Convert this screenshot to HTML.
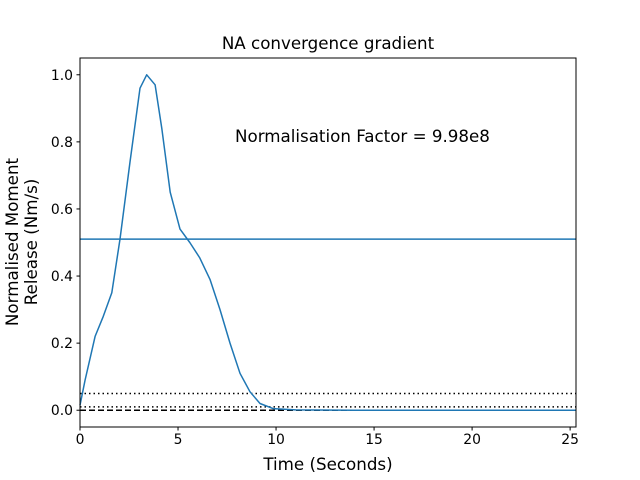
<!DOCTYPE html>
<html><head><meta charset="utf-8"><style>
body{margin:0;background:#fff;}
svg{display:block;font-family:"DejaVu Sans","Liberation Sans",sans-serif;}
</style></head><body>
<svg id="chart" width="640" height="480" viewBox="0 0 640 480">
<rect x="0" y="0" width="640" height="480" fill="#fff"/>
<g id="plot"></g>
</svg>
<script>
const times=[0,0.26,0.77,1.19,1.62,2.04,2.55,3.06,3.4,3.83,4.17,4.6,5.1,5.6,6.1,6.63,7.14,7.65,8.16,8.67,9.18,9.85,11,14,18,22,25.3];
const values=[0.015,0.09,0.22,0.28,0.35,0.51,0.74,0.96,1.0,0.97,0.84,0.65,0.54,0.50,0.455,0.39,0.30,0.20,0.11,0.055,0.02,0.005,0.001,0,0,0,0];
const meanLevel=0.51;
const dottedLevel=0.05;
const dottedLevel2=0.01;
const dashedLevel=0.0;
const xTicks=[0,5,10,15,20,25];
const yTicks=[0.0,0.2,0.4,0.6,0.8,1.0];
const xMin=0,xMax=25.3,yMin=-0.05,yMax=1.05;
const L=80,R=576,T=58,B=427;
const sx=v=>L+(v-xMin)/(xMax-xMin)*(R-L);
const sy=v=>B-(v-yMin)/(yMax-yMin)*(B-T);
const NS="http://www.w3.org/2000/svg";
const g=document.getElementById('plot');
function mk(tag,attrs,parent){const e=document.createElementNS(NS,tag);for(const k in attrs)e.setAttribute(k,attrs[k]);(parent||g).appendChild(e);return e;}
function hline(v,dash,color,name){const e=mk('line',{x1:L,x2:R,y1:sy(v),y2:sy(v),stroke:color,'stroke-width':1.5,'stroke-dasharray':dash});

}
hline(dottedLevel,'1.5,3','#000','threshold-dotted-005');
hline(dottedLevel2,'1.5,3','#000','threshold-dotted-001');
hline(dashedLevel,'6,3','#000','zero-dashed-line');
hline(meanLevel,'','#1f77b4','mean-level-line');
const d=times.map((t,i)=>(i?'L':'M')+sx(t).toFixed(1)+','+sy(values[i]).toFixed(1)).join(' ');
const path=mk('path',{d:d,fill:'none',stroke:'#1f77b4','stroke-width':1.5,'stroke-linejoin':'round'});


const frame=mk('rect',{x:L,y:T,width:R-L,height:B-T,fill:'none',stroke:'#000','stroke-width':1});


xTicks.forEach(v=>{const x=sx(v);
const tk=mk('line',{x1:x,x2:x,y1:B,y2:B+3.5,stroke:'#000'});


const tx=mk('text',{x:x,y:B+17,'font-size':13.9,'text-anchor':'middle'});tx.textContent=v;

});
yTicks.forEach(v=>{const y=sy(v);
const tk=mk('line',{x1:L-3.5,x2:L,y1:y,y2:y,stroke:'#000'});


const tx=mk('text',{x:L-7,y:y+5,'font-size':13.9,'text-anchor':'end'});tx.textContent=v.toFixed(1);

});
</script>
<svg style="position:absolute;left:0;top:0" width="640" height="480">
<text x="328" y="49" font-size="16.7" text-anchor="middle" font-family="DejaVu Sans, Liberation Sans, sans-serif">NA convergence gradient</text>
<text x="328" y="470" font-size="16.7" text-anchor="middle" font-family="DejaVu Sans, Liberation Sans, sans-serif">Time (Seconds)</text>
<g transform="translate(18,242) rotate(-90)" font-family="DejaVu Sans, Liberation Sans, sans-serif" font-size="16.7" text-anchor="middle">
<text x="0" y="0">Normalised Moment</text>
<text x="0" y="19">Release (Nm/s)</text>
</g>
<text x="235" y="142" font-size="16.7" font-family="DejaVu Sans, Liberation Sans, sans-serif">Normalisation Factor = 9.98e8</text>
</svg>
</body></html>
